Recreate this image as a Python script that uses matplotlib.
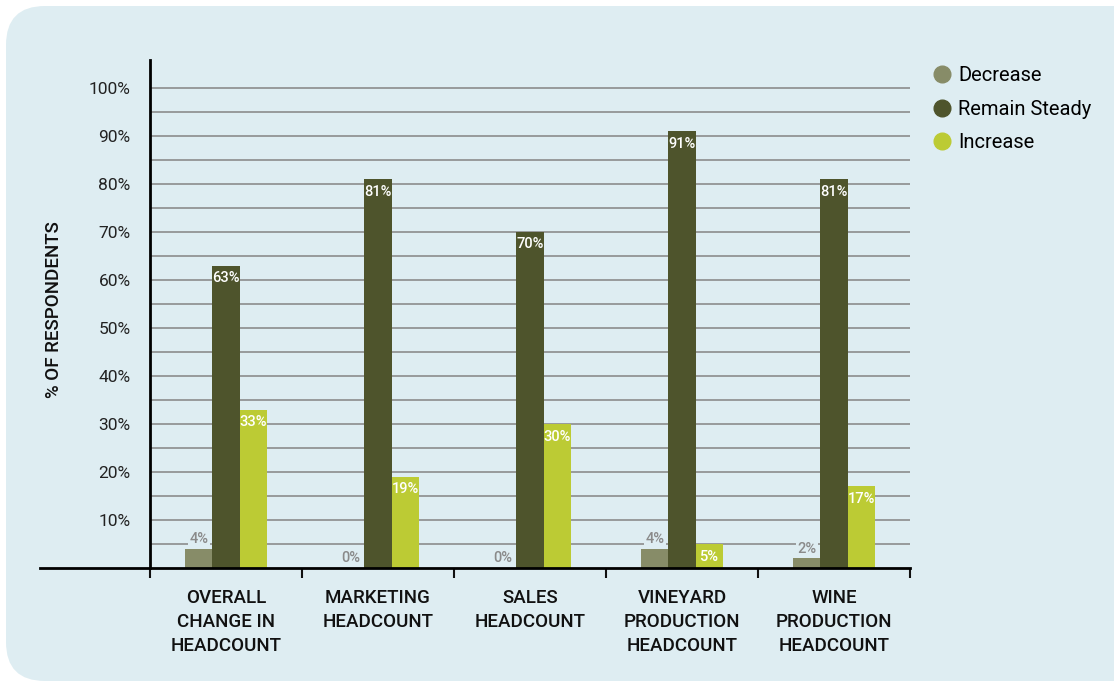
import numpy as np
import matplotlib.pyplot as plt
from matplotlib.patches import FancyBboxPatch
from matplotlib.lines import Line2D

categories = ["OVERALL\nCHANGE IN\nHEADCOUNT", "MARKETING\nHEADCOUNT", "SALES\nHEADCOUNT",
              "VINEYARD\nPRODUCTION\nHEADCOUNT", "WINE\nPRODUCTION\nHEADCOUNT"]
series = ["Decrease", "Remain Steady", "Increase"]
decrease = [4, 0, 0, 4, 2]
remain = [63, 81, 70, 91, 81]
increase = [33, 19, 30, 5, 17]
colors = ["#878c68", "#4e542c", "#bccb34"]
bg = "#deedf2"

plt.rcParams["font.family"] = ["Roboto", "DejaVu Sans"]

fig = plt.figure(figsize=(11.14, 6.81), dpi=100)
fig.patch.set_facecolor("white")
fig.patches.append(FancyBboxPatch((6 / 1114, 0.0), 1 - 6 / 1114 + 0.05, 1 - 6 / 681,
                                  boxstyle="round,pad=0,rounding_size=0.035",
                                  transform=fig.transFigure, facecolor=bg,
                                  edgecolor="none", zorder=-10,
                                  mutation_aspect=1114 / 681))

ax = fig.add_axes([150 / 1114, 1 - 568 / 681, 760 / 1114, 508 / 681])
ax.set_facecolor("none")

x = np.arange(len(categories))
w = 0.178
data = [decrease, remain, increase]
for i, (vals, c, name) in enumerate(zip(data, colors, series)):
    pos = x + (i - 1) * w
    ax.bar(pos, vals, width=w, color=c, label=name, zorder=3)
    for p, v in zip(pos, vals):
        if v >= 5:
            ax.annotate(f"{v}%", (p, v), xytext=(0, -4), textcoords="offset points",
                        ha="center", va="top", color="white", fontsize=10.5,
                        fontweight="medium", zorder=4)
        else:
            ax.annotate(f"{v}%", (p, v), xytext=(0, 2), textcoords="offset points",
                        ha="center", va="bottom", color="#8a8a8a", fontsize=10.5,
                        fontweight="medium", zorder=4,
                        bbox=dict(boxstyle="square,pad=0.1", fc=bg, ec="none"))

ax.set_xlim(-0.5, len(categories) - 0.5)
ax.set_ylim(0, 105.8)
yt = list(range(5, 101, 5))
ax.set_yticks(yt)
ax.set_yticklabels([f"{t}%" if t % 10 == 0 else "" for t in yt], fontsize=12.5, color="#222222")
ax.tick_params(axis="y", length=0, pad=14)
ax.grid(axis="y", color="#8c8c8c", linewidth=1.2, zorder=1)

ax.set_xticks(x)
ax.set_xticklabels(categories, fontsize=13.5, fontweight="medium", linespacing=1.42,
                   color="#111111")
ax.set_xticks(np.arange(len(categories) + 1) - 0.5, minor=True)
ax.tick_params(axis="x", which="major", length=0, pad=15)
ax.tick_params(axis="x", which="minor", length=7, width=1.5, direction="out", color="#111111")

for s in ["top", "right"]:
    ax.spines[s].set_visible(False)
ax.spines["left"].set_linewidth(2)
ax.spines["bottom"].set_visible(False)
ax.plot([-110 / 760, 1], [0, 0], transform=ax.transAxes, color="black", lw=2,
        clip_on=False, zorder=5)

ax.set_ylabel("% OF RESPONDENTS", fontsize=13.5, fontweight="medium", color="#111111")
ax.yaxis.set_label_coords(-0.115, 0.508)

handles = [Line2D([], [], marker="o", linestyle="none", markersize=12, color=c) for c in colors]
fig.legend(handles, series, loc="upper left", bbox_to_anchor=(922 / 1114, 1 - 58 / 681),
           frameon=False, fontsize=14.5, handletextpad=0.2, labelspacing=0.72,
           borderaxespad=0, handlelength=1.2)

fig.savefig("out.png", dpi=100)
